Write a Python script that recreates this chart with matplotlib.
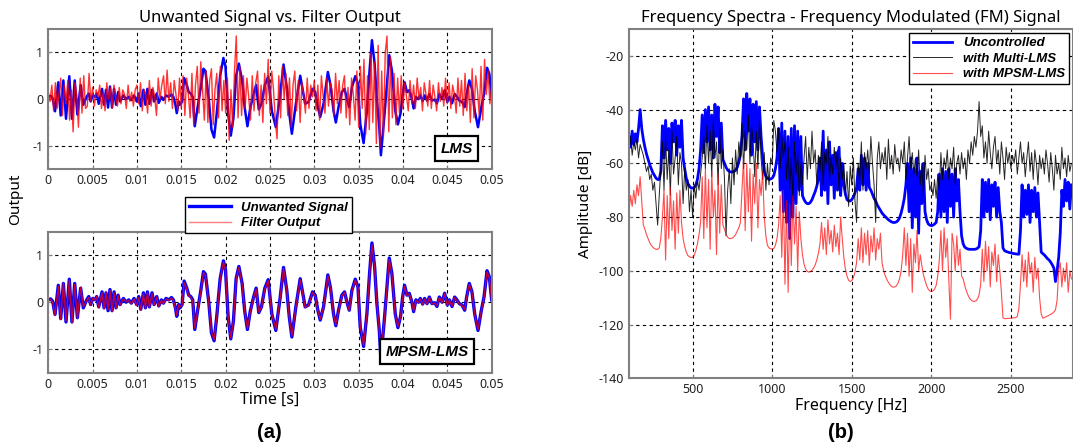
import numpy as np
import matplotlib.pyplot as plt

plt.rcParams['font.family'] = ['Noto Sans', 'DejaVu Sans']
plt.rcParams['axes.unicode_minus'] = False

# ---- panel (a): time signals ----
# unwanted signal, read at its turning points (time in ms)
unwanted_t_ms = [
    0.0, 0.27, 0.49, 0.76, 1.13, 1.40, 1.70, 2.00, 2.37, 2.67,
    2.98, 3.28, 3.65, 3.95, 4.33, 4.56, 4.78, 5.01, 5.31, 5.46,
    5.69, 6.06, 6.29, 6.51, 6.74, 6.96, 7.19, 7.42, 7.64, 7.87,
    8.09, 8.47, 8.77, 9.07, 9.37, 9.67, 9.97, 10.20, 10.43, 10.73,
    10.95, 11.18, 11.40, 11.70, 11.93, 12.23, 12.46, 12.76, 12.98, 13.28,
    13.59, 13.89, 14.11, 14.34, 14.49, 14.71, 14.86, 15.09, 15.32, 15.62,
    15.84, 16.07, 16.29, 16.52, 16.82, 17.20, 17.50, 17.72, 18.10, 18.40,
    18.70, 19.00, 19.38, 19.75, 19.98, 20.28, 20.58, 20.88, 21.18, 21.49,
    21.86, 22.16, 22.46, 22.77, 23.14, 23.44, 23.74, 24.04, 24.42, 24.80,
    25.21, 25.66, 26.15, 26.53, 26.90, 27.17, 27.47, 27.92, 28.41, 28.71,
    28.97, 29.35, 29.80, 30.10, 30.40, 30.67, 31.04, 31.53, 31.83, 32.17,
    32.43, 32.73, 33.11, 33.41, 33.68, 33.94, 34.24, 34.62, 34.92, 35.18,
    35.56, 35.93, 36.23, 36.50, 36.80, 37.06, 37.33, 37.51, 37.93, 38.45,
    38.75, 39.13, 39.43, 39.73, 39.96, 40.18, 40.45, 40.71, 41.01, 41.20,
    41.46, 41.76, 41.95, 42.22, 42.44, 42.71, 42.97, 43.27, 43.57, 43.83,
    44.10, 44.40, 44.70, 45.00, 45.23, 45.53, 45.83, 46.09, 46.35, 46.66,
    46.96, 47.18, 47.48, 47.78, 48.09, 48.46, 48.84, 49.14, 49.48, 49.74,
    50.00]

unwanted = [
    0.05, 0.07, 0.02, -0.26, 0.36, -0.35, 0.40, -0.42, 0.49, -0.42,
    0.40, -0.33, 0.30, -0.12, 0.05, 0.12, -0.05, 0.08, 0.05, 0.12,
    -0.10, 0.22, -0.12, 0.20, -0.18, 0.27, -0.18, 0.22, -0.12, 0.15,
    -0.05, 0.08, 0.00, 0.05, -0.02, 0.08, -0.05, 0.12, -0.15, 0.20,
    -0.12, 0.22, -0.10, 0.20, -0.05, 0.12, -0.08, 0.05, -0.02, 0.08,
    0.05, 0.10, 0.05, -0.12, -0.30, -0.05, -0.12, -0.05, 0.45, 0.30,
    0.15, 0.12, 0.05, -0.58, -0.20, 0.25, 0.65, 0.60, 0.00, -0.65,
    -0.82, -0.30, 0.50, 0.88, 0.70, -0.30, -0.78, -0.40, 0.50, 0.76,
    0.40, -0.20, -0.58, -0.20, 0.10, 0.30, -0.22, -0.10, 0.30, 0.48,
    -0.25, -0.60, 0.10, 0.74, 0.25, -0.30, -0.74, -0.10, 0.50, 0.18,
    -0.10, -0.06, 0.22, 0.15, -0.17, -0.38, -0.10, 0.58, 0.30, -0.25,
    -0.50, -0.17, 0.15, 0.22, 0.00, -0.17, 0.25, 0.49, 0.33, -0.53,
    -0.94, -0.25, 0.61, 1.26, 0.76, -0.03, -0.60, -1.20, -0.30, 0.94,
    0.61, -0.25, -0.54, -0.30, 0.11, 0.36, 0.15, 0.19, 0.00, -0.20,
    0.05, 0.00, 0.08, -0.04, 0.08, -0.03, 0.11, -0.03, -0.01, -0.09,
    0.11, 0.00, 0.19, -0.06, 0.05, -0.09, 0.11, 0.05, -0.03, -0.06,
    -0.17, 0.11, 0.40, 0.22, -0.25, -0.60, -0.17, 0.11, 0.67, 0.54,
    0.05]

# MPSM-LMS filter output (tracks the unwanted signal closely)
mpsm_out = [
    0.04, 0.06, 0.00, -0.28, 0.34, -0.37, 0.42, -0.40, 0.47, -0.44,
    0.38, -0.35, 0.32, -0.10, 0.04, 0.10, -0.06, 0.09, 0.04, 0.13,
    -0.12, 0.20, -0.14, 0.21, -0.16, 0.25, -0.20, 0.20, -0.13, 0.14,
    -0.06, 0.07, 0.01, 0.04, -0.03, 0.07, -0.07, 0.10, -0.17, 0.18,
    -0.13, 0.21, -0.11, 0.18, -0.06, 0.11, -0.09, 0.04, -0.03, 0.07,
    0.04, 0.09, 0.03, -0.13, -0.28, -0.06, -0.10, -0.06, 0.42, 0.28,
    0.14, 0.11, 0.03, -0.56, -0.21, 0.23, 0.63, 0.58, -0.02, -0.63,
    -0.80, -0.31, 0.48, 0.86, 0.68, -0.31, -0.76, -0.41, 0.48, 0.74,
    0.38, -0.21, -0.56, -0.21, 0.09, 0.28, -0.21, -0.11, 0.28, 0.46,
    -0.26, -0.58, 0.09, 0.72, 0.24, -0.31, -0.72, -0.11, 0.48, 0.17,
    -0.11, -0.07, 0.21, 0.13, -0.18, -0.36, -0.11, 0.56, 0.28, -0.26,
    -0.48, -0.18, 0.13, 0.21, -0.01, -0.18, 0.23, 0.47, 0.31, -0.51,
    -0.92, -0.26, 0.59, 1.22, 0.74, -0.04, -0.58, -1.16, -0.31, 0.91,
    0.59, -0.26, -0.52, -0.31, 0.10, 0.34, 0.14, 0.18, -0.01, -0.19,
    0.04, -0.01, 0.07, -0.05, 0.07, -0.04, 0.10, -0.04, -0.02, -0.08,
    0.10, -0.01, 0.18, -0.07, 0.04, -0.08, 0.10, 0.04, -0.04, -0.07,
    -0.16, 0.10, 0.38, 0.21, -0.26, -0.58, -0.18, 0.10, 0.65, 0.52,
    0.04]

# LMS filter output, one value every 0.2 ms from 0 to 50 ms
lms_out = [
    0.15, -0.05, 0.30, -0.25, 0.35, -0.20, 0.10, 0.45, -0.35, 0.30,
    -0.10, 0.40, -0.45, 0.20, -0.70, 0.35, 0.10, -0.60, 0.45, -0.30,
    0.50, -0.20, -0.15, 0.55, -0.05,
    0.25, -0.15, 0.20, 0.05, 0.30, -0.20, 0.15, -0.25, 0.35, 0.00,
    0.25, -0.20, 0.30, 0.05, -0.15, 0.25, -0.10, 0.20, 0.10, -0.20,
    0.30, -0.05, 0.15, -0.15, 0.20,
    0.30, -0.10, 0.35, -0.25, 0.20, 0.10, -0.30, 0.40, -0.15, 0.25,
    0.05, -0.35, 0.45, 0.00, 0.30, 0.50, -0.10, 0.62, -0.05, 0.35,
    -0.20, 0.40, 0.10, -0.25, 0.45,
    -0.20, 0.50, -0.35, 0.45, 0.10, -0.40, 0.55, -0.55, 0.30, 0.70,
    -0.30, 0.80, 0.20, -0.45, 0.60, -0.50, 0.40, 0.65, -0.55, 0.20,
    0.55, -0.40, 0.70, -0.25, 0.40,
    -0.30, 0.45, -0.88, 0.20, -0.60, 0.60, 1.35, -0.40, 0.70, -0.35,
    0.50, -0.20, 0.45, 0.05, -0.45, 0.50, -0.25, 0.35, 0.60, -0.35,
    0.30, -0.50, 0.55, -0.10, 0.85,
    -0.30, 0.60, 0.20, -0.45, -0.85, 0.50, -0.40, 0.70, 0.00, 0.55,
    -0.35, 0.45, -0.60, 0.30, 0.60, -0.25, 0.40, -0.50, 0.35, 0.10,
    -0.30, 0.45, -0.20, 0.30, 0.05,
    0.40, -0.25, 0.30, -0.45, 0.50, 0.05, -0.30, 0.45, -0.15, 0.35,
    0.20, -0.35, 0.55, -0.10, 0.40, -0.30, 0.30, 0.50, -0.40, 0.25,
    -0.55, 0.45, 0.10, -0.45, 0.60,
    -0.60, 0.70, -0.20, 0.85, -0.75, 0.50, -0.65, 1.00, -0.50, 0.80,
    -0.95, 1.15, -1.05, 0.60, -0.80, 1.00, 1.35, -0.70, 0.90, -0.40,
    0.55, -0.55, 0.45, -0.30, 0.50,
    -0.20, 0.35, 0.05, -0.25, 0.40, -0.10, 0.30, -0.20, 0.45, 0.00,
    0.25, -0.25, 0.35, 0.10, -0.15, 0.40, -0.20, 0.30, 0.05, -0.25,
    0.35, -0.05, 0.25, -0.15, 0.45,
    -0.10, 0.35, -0.20, 0.30, 0.10, -0.30, 0.45, -0.15, 0.40, -0.35,
    0.55, -0.25, 0.30, -0.50, 0.65, -0.40, 0.50, 0.20, -0.35, 0.70,
    -0.45, 0.85, 0.10, 0.60, -0.10, 0.30]

time_ticks = ['0', '0.005', '0.01', '0.015', '0.02', '0.025', '0.03',
              '0.035', '0.04', '0.045', '0.05']

# ---- panel (b): spectra, one value every 10 Hz from 100 to 2880 Hz ----
uncontrolled_db = [
    -50, -54, -48, -53, -49, -52, -47, -40, -47, -51,
    -54, -56.5, -58.5, -60.5, -62, -63.5, -64.5, -65.5, -66, -66,
    -63, -46, -58, -44, -55, -47, -60, -45, -52, -44,
    -57, -46, -54, -44, -58, -62, -65.5, -67.5, -68.5, -69.2,
    -69.2, -69, -68, -66, -62, -55, -42, -56, -40, -52,
    -39, -55, -42, -58, -38, -50, -39, -56, -45, -58.5,
    -60, -61.5, -62.5, -63, -63.2, -63.2, -63, -62.5, -61.5, -59.5,
    -57, -50, -36, -55, -34, -48, -36, -57, -38, -52,
    -37, -55, -39, -50, -58, -63, -64.8, -65.6, -66, -65.8,
    -65.5, -64.5, -62, -58, -47, -70, -45, -78, -48, -82,
    -50, -88, -47, -80, -46, -75, -48, -70, -50, -72,
    -73.5, -74.5, -75, -75, -74.5, -73.5, -72, -70.5, -68.5, -66,
    -58, -72, -48, -70, -55, -75, -52, -68, -57, -73,
    -56, -70, -54, -72, -60, -68, -71.5, -73.5, -74, -74,
    -73.5, -72.5, -71, -69, -62, -70, -57, -68, -58, -70,
    -60, -69, -70, -71.5, -73, -74, -75.5, -76.5, -77.5, -78.5,
    -79.2, -79.8, -80.4, -81, -81.4, -81.8, -82, -82, -81.8, -81.3,
    -80.3, -78.5, -76, -73, -68, -60, -78, -58, -84, -62,
    -80, -58, -86, -63, -75, -60, -78, -81, -82.5, -83,
    -83.2, -83, -82.6, -82, -78, -64, -80, -62, -78, -63,
    -82, -62, -76, -64, -80, -62, -74, -66, -78, -87,
    -90, -91.2, -91.6, -91.9, -92, -92, -92, -92, -91.9, -91.6,
    -91, -85, -66, -80, -67, -78, -66, -81, -68, -76,
    -67, -80, -69, -78, -82, -91.5, -92.5, -92.8, -93, -93.2,
    -93.3, -93.5, -93.6, -93.7, -93.8, -93.8, -85, -68, -80, -70,
    -79, -68, -82, -70, -78, -69, -80, -71, -82, -93,
    -93.6, -94.1, -94.8, -95.5, -96, -96.8, -97.8, -99, -104, -100,
    -95, -86, -70, -76, -66, -74, -67, -77, -68]

multi_lms_db = [
    -56, -50, -57, -52, -55, -51, -58, -53, -55, -57,
    -60, -63, -61, -66, -64, -70, -67, -75, -83, -72,
    -62, -52, -70, -50, -66, -55, -72, -48, -64, -58,
    -50, -68, -56, -60, -75, -62, -70, -66, -78, -70,
    -80, -68, -73, -66, -70, -64, -58, -50, -62, -46,
    -60, -48, -65, -44, -58, -52, -68, -47, -62, -55,
    -66, -87, -70, -62, -75, -58, -68, -55, -64, -52,
    -58, -45, -62, -48, -55, -42, -60, -46, -52, -65,
    -48, -62, -44, -58, -66, -56, -70, -60, -68, -58,
    -60, -44, -48, -56, -47, -62, -50, -58, -52, -66,
    -54, -70, -58, -74, -52, -64, -56, -72, -60, -68,
    -58, -50, -66, -54, -62, -48, -60, -55, -68, -57,
    -63, -52, -68, -56, -60, -50, -66, -58, -64, -54,
    -62, -55, -70, -58, -66, -60, -72, -63, -76, -61,
    -68, -58, -74, -82, -60, -66, -52, -70, -56, -62,
    -55, -64, -50, -60, -68, -82, -58, -52, -62, -56,
    -60, -54, -66, -51, -62, -57, -64, -53, -60, -58,
    -63, -55, -60, -52, -66, -58, -50, -62, -56, -64,
    -58, -65, -55, -68, -60, -72, -57, -66, -62, -70,
    -68, -72, -66, -73, -64, -70, -56, -66, -58, -62,
    -55, -66, -58, -62, -54, -68, -60, -57, -64, -56,
    -62, -58, -66, -55, -60, -52, -57, -50, -54, -48,
    -37, -50, -46, -58, -52, -60, -48, -56, -62, -54,
    -50, -60, -55, -64, -52, -58, -66, -54, -60, -56,
    -62, -57, -60, -55, -64, -58, -52, -60, -56, -65,
    -58, -52, -63, -56, -66, -55, -60, -68, -57, -62,
    -58, -64, -55, -60, -67, -56, -62, -70, -57, -64,
    -60, -66, -54, -62, -58, -65, -57, -63, -60]

mpsm_lms_db = [
    -78, -72, -76, -70, -75, -68, -72, -65, -74, -83,
    -84.5, -86.5, -88, -89.5, -90.5, -91.2, -91.7, -92, -92, -91.5,
    -88, -80, -70, -96, -72, -88, -69, -85, -74, -92,
    -71, -86, -70, -82, -88, -91, -93, -94.3, -94.8, -95,
    -95, -94.2, -92.5, -90, -86.5, -82, -65, -88, -62, -84,
    -66, -92, -63, -80, -70, -94, -64, -86, -68, -83,
    -84.5, -86.5, -87.5, -88, -88, -87.8, -87.3, -86.5, -85.2, -84,
    -82, -70, -58, -85, -60, -78, -62, -89, -64, -75,
    -60, -84, -66, -72, -63, -80, -87, -90.5, -91.5, -91.8,
    -91.9, -91.7, -90.5, -88, -83, -72, -95, -70, -105, -74,
    -108, -75, -98, -72, -90, -76, -100, -78, -88, -94,
    -97.5, -99.3, -100.2, -100.5, -100.3, -99.8, -99, -97.8, -96, -93.5,
    -90, -82, -92, -84, -94, -81, -90, -85, -93, -83,
    -91, -86, -94, -80, -88, -95, -99.5, -102, -103.5, -104,
    -103.6, -102.5, -100.5, -97, -88, -96, -84, -97, -86, -94,
    -85, -98, -87, -93, -84, -96, -88, -92, -86, -97,
    -100, -101.8, -103.2, -104.3, -105.2, -105.8, -106.1, -106, -105.6, -104.6,
    -103, -100, -94, -84, -98, -86, -102, -88, -108, -90,
    -97, -85, -100, -94, -98, -101.5, -103.5, -105.5, -106.8, -107.5,
    -107.7, -107.5, -106.8, -105.5, -102, -96, -85, -100, -84, -95,
    -88, -104, -118, -86, -90, -100, -87, -98, -92, -102,
    -103, -105.5, -107.5, -109, -110.2, -110.9, -111.3, -111.4, -111.2, -110.5,
    -109, -105, -92, -104, -89, -100, -91, -106, -93, -98,
    -90, -104, -94, -100, -108, -117.5, -117.8, -117.8, -117.7, -117.7,
    -117.6, -117.5, -117.5, -117.4, -117, -114, -105, -94, -104, -96,
    -106, -93, -101, -97, -108, -95, -103, -99, -110, -116,
    -117.6, -117.4, -117.1, -116.8, -116.5, -116.2, -115.8, -115.3, -114.5, -111,
    -100, -97, -106, -99, -104, -97, -108, -100, -103]

t_unw = np.array(unwanted_t_ms) / 1000
t_lms = np.linspace(0, 0.05, len(lms_out))
freq = np.arange(100, 2890, 10)

grid_kw = dict(color='k', linestyle=(0, (3, 3)), linewidth=0.8)
bi = dict(weight='bold', style='italic', family='Liberation Sans')


def style_axes(ax):
    for s in ax.spines.values():
        s.set_color('#808080')
        s.set_linewidth(1.5)
    ax.grid(True, **grid_kw)
    ax.set_axisbelow(True)
    ax.tick_params(direction='in', length=3, color='#808080',
                   labelsize=9, labelcolor='#222222')


fig = plt.figure(figsize=(10.73, 4.47), dpi=100)
ax1 = fig.add_axes([0.045, 0.6213, 0.4132, 0.3139])
ax2 = fig.add_axes([0.045, 0.1662, 0.4132, 0.3154])
ax3 = fig.add_axes([0.5862, 0.1537, 0.4138, 0.7814])

# top: LMS
ax1.plot(t_unw, unwanted, color='blue', lw=1.8)
ax1.plot(t_lms, lms_out, color='red', lw=1.0, alpha=0.8)
ax1.set_title('Unwanted Signal vs. Filter Output', fontsize=12, pad=5)
ax1.text(0.921, 0.147, 'LMS', transform=ax1.transAxes, ha='center', va='center',
         fontsize=11, bbox=dict(boxstyle='square,pad=0.35', fc='white', ec='k', lw=1.6), **bi)

# bottom: MPSM-LMS
l1, = ax2.plot(t_unw, unwanted, color='blue', lw=2.4)
l2, = ax2.plot(t_unw, mpsm_out, color='red', lw=1.0, alpha=0.75)
ax2.text(0.855, 0.15, 'MPSM-LMS', transform=ax2.transAxes, ha='center', va='center',
         fontsize=11, bbox=dict(boxstyle='square,pad=0.35', fc='white', ec='k', lw=1.6), **bi)
ax2.set_xlabel('Time [s]', fontsize=11.5, labelpad=1)

for ax in (ax1, ax2):
    ax.set_xlim(0, 0.05)
    ax.set_ylim(-1.5, 1.5)
    ax.set_xticks(np.linspace(0, 0.05, 11))
    ax.set_xticklabels(time_ticks)
    ax.set_yticks([-1, 0, 1])
    ax.set_yticklabels(['-1', '0', '1'])
    style_axes(ax)

leg1 = fig.legend([l1, l2], ['Unwanted Signal', 'Filter Output'], loc='center',
                  bbox_to_anchor=(0.2502, 0.5183), prop=dict(size=9.5, **bi),
                  fancybox=False, edgecolor='k', framealpha=1, handlelength=3.2,
                  borderpad=0.3, labelspacing=0.25)
leg1.get_frame().set_linewidth(1.0)
leg1.legend_handles[1].set_alpha(0.5)

fig.text(0.015, 0.555, 'Output', rotation=90, ha='center', va='center', fontsize=11)
fig.text(0.251, 0.032, '(a)', ha='center', va='center', fontsize=14.5,
         weight='bold', family='Liberation Sans')

# right: spectra
ax3.plot(freq, uncontrolled_db, color='blue', lw=2.0, label='Uncontrolled')
ax3.plot(freq, multi_lms_db, color='k', lw=0.7, alpha=0.85, label='with Multi-LMS')
ax3.plot(freq, mpsm_lms_db, color='red', lw=0.8, alpha=0.7, label='with MPSM-LMS')
ax3.set_xlim(100, 2890)
ax3.set_ylim(-140, -10)
ax3.set_xticks([500, 1000, 1500, 2000, 2500])
ax3.set_yticks([-140, -120, -100, -80, -60, -40, -20])
style_axes(ax3)
ax3.set_title('Frequency Spectra - Frequency Modulated (FM) Signal', fontsize=12, pad=5)
ax3.set_xlabel('Frequency [Hz]', fontsize=11.5, labelpad=1)
ax3.set_ylabel('Amplitude [dB]', fontsize=11, labelpad=4)
leg3 = ax3.legend(loc='upper right', prop=dict(size=9.5, **bi), fancybox=False,
                  edgecolor='k', framealpha=1, handlelength=3, borderpad=0.3,
                  labelspacing=0.25, borderaxespad=0.3)
leg3.get_frame().set_linewidth(1.0)
fig.text(0.784, 0.032, '(b)', ha='center', va='center', fontsize=14.5,
         weight='bold', family='Liberation Sans')

fig.savefig('out.png', dpi=100)
